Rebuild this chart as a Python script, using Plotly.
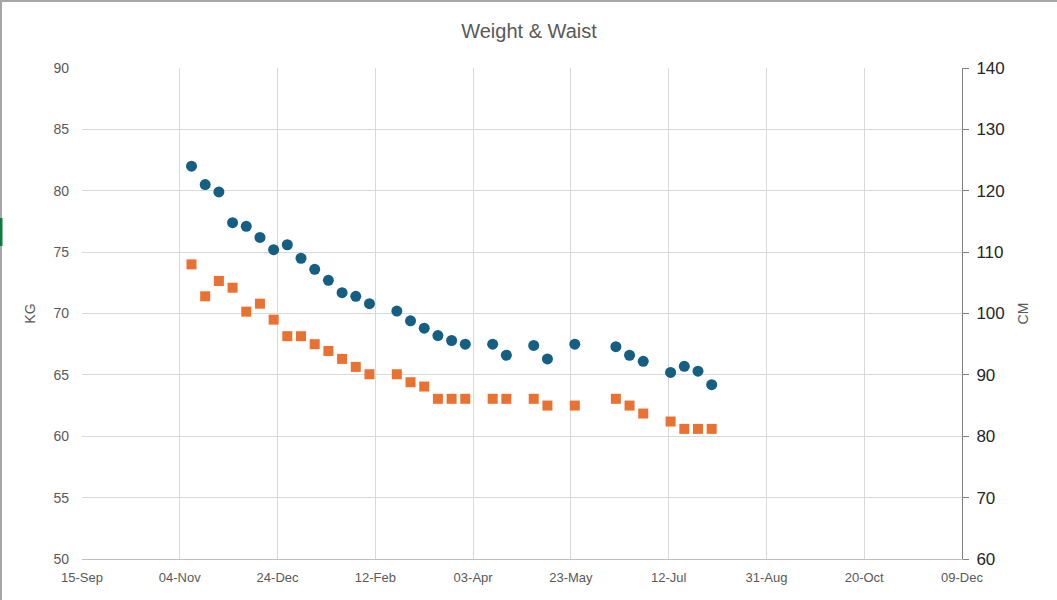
import plotly.graph_objects as go

dates = ["2024-11-10", "2024-11-17", "2024-11-24", "2024-12-01", "2024-12-08", "2024-12-15",
         "2024-12-22", "2024-12-29", "2025-01-05", "2025-01-12", "2025-01-19", "2025-01-26",
         "2025-02-02", "2025-02-09", "2025-02-23", "2025-03-02", "2025-03-09", "2025-03-16",
         "2025-03-23", "2025-03-30", "2025-04-13", "2025-04-20", "2025-05-04", "2025-05-11",
         "2025-05-25", "2025-06-15", "2025-06-22", "2025-06-29", "2025-07-13", "2025-07-20",
         "2025-07-27", "2025-08-03"]

weight_kg = [82.0, 80.5, 79.9, 77.4, 77.1, 76.2, 75.2, 75.6, 74.5, 73.6, 72.7, 71.7,
             71.4, 70.8, 70.2, 69.4, 68.8, 68.2, 67.8, 67.5, 67.5, 66.6, 67.4, 66.3,
             67.5, 67.3, 66.6, 66.1, 65.2, 65.7, 65.3, 64.2]

waist_cm = [108.0, 102.8, 105.3, 104.2, 100.3, 101.6, 99.0, 96.3, 96.3, 95.0, 93.9, 92.6,
            91.3, 90.1, 90.1, 88.8, 88.1, 86.1, 86.1, 86.1, 86.1, 86.1, 86.1, 85.0,
            85.0, 86.1, 85.0, 83.7, 82.4, 81.2, 81.2, 81.2]

x_tick_vals = ["2024-09-15", "2024-11-04", "2024-12-24", "2025-02-12", "2025-04-03",
               "2025-05-23", "2025-07-12", "2025-08-31", "2025-10-20", "2025-12-09"]
x_tick_text = ["15-Sep", "04-Nov", "24-Dec", "12-Feb", "03-Apr", "23-May", "12-Jul",
               "31-Aug", "20-Oct", "09-Dec"]

GRID = "#d9d9d9"
GREY = "#595959"
SANS = "Liberation Sans, Arial, sans-serif"

# body margin removed via post_script, so figure pixels == page pixels
PL, PR, PT, PB = 82, 962, 68, 559
W, H = 1057, 600
PW, PH = PR - PL, PB - PT


def px(xp):
    return (xp - PL) / PW


def py(yp):
    return (PB - yp) / PH


fig = go.Figure()
fig.add_trace(go.Scatter(
    x=dates, y=weight_kg, mode="markers", name="Weight",
    marker=dict(symbol="circle", size=11, color="#156082", line=dict(width=0)),
    yaxis="y"))
fig.add_trace(go.Scatter(
    x=dates, y=waist_cm, mode="markers", name="Waist",
    marker=dict(symbol="square", size=10, color="#E97132", line=dict(width=0)),
    yaxis="y2"))

fig.update_layout(
    width=W, height=H,
    margin=dict(l=PL, r=W - PR, t=PT, b=H - PB),
    paper_bgcolor="white", plot_bgcolor="white",
    showlegend=False,
    title=dict(text="Weight & Waist", x=529 / W, xanchor="center",
               y=1 - 31 / H, yanchor="middle",
               xref="container", yref="container",
               font=dict(family=SANS, size=20, color=GREY)),
    xaxis=dict(
        type="date", range=["2024-09-15", "2025-12-09"],
        tickvals=x_tick_vals, ticktext=x_tick_text,
        showgrid=True, gridcolor=GRID, gridwidth=1,
        showline=True, linecolor="#bfbfbf", linewidth=1,
        ticks="", tickfont=dict(family=SANS, size=13, color=GREY),
        ticklabelstandoff=6,
        zeroline=False),
    yaxis=dict(
        range=[50, 90], dtick=5, showgrid=True, gridcolor=GRID, gridwidth=1,
        showline=False, ticks="", zeroline=False,
        tickfont=dict(family=SANS, size=14, color=GREY),
        ticklabelstandoff=12,
        title=dict(text="KG", font=dict(family=SANS, size=14, color=GREY),
                   standoff=14)),
    yaxis2=dict(
        range=[60, 140], dtick=10, overlaying="y", side="right",
        showgrid=False, showline=True, linecolor="#7f7f7f", linewidth=1,
        ticks="outside", ticklen=6, tickcolor="#7f7f7f", zeroline=False,
        tickfont=dict(family=SANS, size=17, color="#262626"),
        ticklabelstandoff=4,
        title=dict(text="CM", font=dict(family=SANS, size=14, color=GREY),
                   standoff=14)),
    shapes=[
        dict(type="line", xref="paper", yref="paper", x0=px(0), x1=px(1057), y0=py(1), y1=py(1),
             line=dict(color="#a6a6a6", width=2)),
        dict(type="line", xref="paper", yref="paper", x0=px(1), x1=px(1), y0=py(600), y1=py(0),
             line=dict(color="#a6a6a6", width=2)),
        dict(type="line", xref="paper", yref="paper", x0=px(1), x1=px(1),
             y0=py(246), y1=py(218),
             line=dict(color="#107c41", width=3)),
    ],
)

fig.write_html("out.html",
               config={"displayModeBar": False},
               post_script="document.body.style.margin='0';document.body.style.padding='0';")
